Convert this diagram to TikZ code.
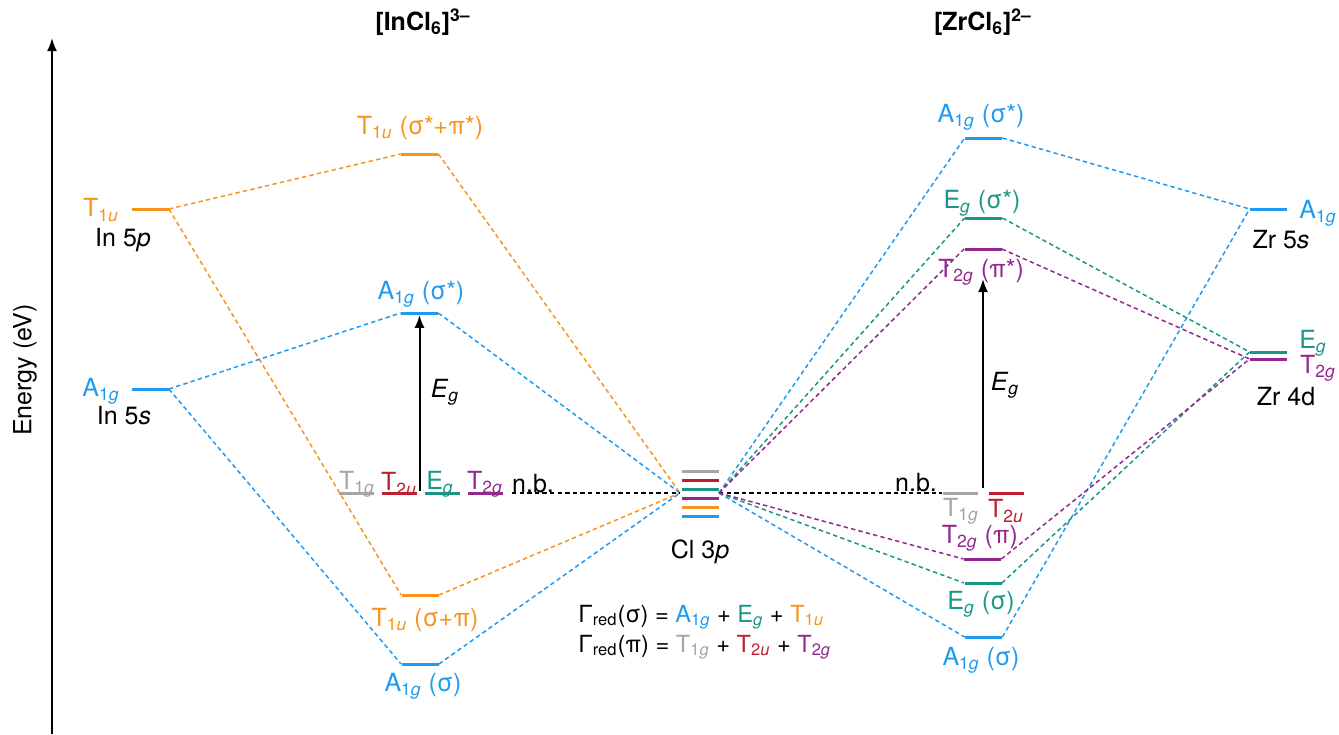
\documentclass[tikz,border=0pt]{standalone}
\usepackage{fontspec}
\setmainfont{TeX Gyre Heros}
\usetikzlibrary{arrows.meta}
\definecolor{mblue}{HTML}{1E9BF0}
\definecolor{morange}{HTML}{F7941D}
\definecolor{mteal}{HTML}{1A9688}
\definecolor{mpurple}{HTML}{93278F}
\definecolor{mred}{HTML}{BE1E2D}
\definecolor{mgray}{HTML}{A6A6A6}
\newcommand{\sym}[3]{#1\textsubscript{#2\textit{#3}}}

\begin{document}
\begin{tikzpicture}[x=0.5pt,y=-0.5pt,
  lvl/.style={rectangle, fill=#1, minimum width=18.5pt, minimum height=1.5pt, inner sep=0pt},
  nblvl/.style={lvl=#1, minimum width=17.5pt},
  corr/.style={draw=#1, line width=0.75pt, dash pattern=on 2.2pt off 1.6pt},
  txt/.style={font=\fontsize{12.5}{14}\selectfont, inner sep=0pt},
  rep/.style={txt, anchor=west, font=\fontsize{11.8}{14}\selectfont},
  gap/.style={-{Latex[length=6.5pt,width=5pt]}, line width=1pt}]
\useasboundingbox (0,0) rectangle (1339,734);
\draw[gap] (52,734) -- (52,38);
\node[txt, rotate=90] (energy) at (25,370) {Energy (eV)};
\node[txt, font=\fontsize{12.5}{14}\selectfont\bfseries] (inTitle) at (423,22) {[InCl\textsubscript{6}]\textsuperscript{3–}};
\node[txt, font=\fontsize{12.5}{14}\selectfont\bfseries] (zrTitle) at (983,22) {[ZrCl\textsubscript{6}]\textsuperscript{2–}};
\node[lvl=morange] (inP) at (150,209) {};
\node[lvl=mblue] (inS) at (150,389) {};
\node[lvl=morange] (tuA) at (419.5,154) {};
\node[lvl=mblue] (agA) at (419.5,313) {};
\node[nblvl=mgray] (tg) at (356.5,493) {};
\node[nblvl=mred] (tu) at (399.5,493) {};
\node[nblvl=mteal] (eg) at (442.5,493) {};
\node[nblvl=mpurple] (t2) at (485,493) {};
\node[lvl=morange] (tuB) at (420,595) {};
\node[lvl=mblue] (agB) at (420,664) {};
\node[lvl=mgray] (cl1) at (700,471) {};
\node[lvl=mred] (cl2) at (700,480) {};
\node[lvl=mteal] (cl3) at (700,489) {};
\node[lvl=mpurple] (cl4) at (700,498) {};
\node[lvl=morange] (cl5) at (700,507) {};
\node[lvl=mblue] (cl6) at (700,516) {};
\coordinate (clL) at (680,493);
\coordinate (clR) at (719,493);
\coordinate (nbL) at (512,493);
\node[lvl=mblue] (zagA) at (983.5,138) {};
\node[lvl=mteal] (zegA) at (983.5,218) {};
\node[lvl=mpurple] (ztA) at (983,249) {};
\node[nblvl=mgray] (ztg) at (960,493) {};
\node[nblvl=mred] (ztu) at (1006,493) {};
\node[lvl=mpurple] (ztB) at (982.5,559) {};
\node[lvl=mteal] (zegB) at (983,583) {};
\node[lvl=mblue] (zagB) at (983.5,637) {};
\node[lvl=mblue] (zrS) at (1268.5,209) {};
\node[lvl=mteal] (zrE) at (1268.5,352) {};
\node[lvl=mpurple] (zrT) at (1268.5,359) {};
\draw[corr=morange] (inP.east) -- (tuA.west);
\draw[corr=morange] (tuA.east) -- (clL);
\draw[corr=morange] (inP.east) -- (tuB.west);
\draw[corr=morange] (tuB.east) -- (clL);
\draw[corr=mblue] (inS.east) -- (agA.west);
\draw[corr=mblue] (agA.east) -- (clL);
\draw[corr=mblue] (inS.east) -- (agB.west);
\draw[corr=mblue] (agB.east) -- (clL);
\draw[corr=black] (nbL) -- (clL);
\draw[corr=black] (clR) -- (ztg.west);
\draw[corr=mblue] (clR) -- (zagA.west);
\draw[corr=mblue] (zagA.east) -- (zrS.west);
\draw[corr=mblue] (clR) -- (zagB.west);
\draw[corr=mblue] (zagB.east) -- (zrS.west);
\draw[corr=mteal] (clR) -- (zegA.west);
\draw[corr=mteal] (zegA.east) -- (zrE.west);
\draw[corr=mteal] (clR) -- (zegB.west);
\draw[corr=mteal] (zegB.east) -- (zrE.west);
\draw[corr=mpurple] (clR) -- (ztA.west);
\draw[corr=mpurple] (ztA.east) -- (zrT.west);
\draw[corr=mpurple] (clR) -- (ztB.west);
\draw[corr=mpurple] (ztB.east) -- (zrT.west);
\node[txt, text=morange] (inPl) at (101,210) {\sym{T}{1}{u}};
\node[txt] (inPn) at (123,240) {In 5\textit{p}};
\node[txt, text=mblue] (inSl) at (101,391) {\sym{A}{1}{g}};
\node[txt] (inSn) at (124,416) {In 5\textit{s}};
\node[txt, text=morange] (tuAl) at (420,128) {\sym{T}{1}{u} (σ*+π*)};
\node[txt, text=mblue] (agAl) at (421,294) {\sym{A}{1}{g} (σ*)};
\node[txt] (gapL) at (445,392) {\textit{E}\textsubscript{\textit{g}}};
\node[txt, text=mgray] (tgl) at (357,484) {\sym{T}{1}{g}};
\node[txt, text=mred] (tul) at (399,484) {\sym{T}{2}{u}};
\node[txt, text=mteal] (egl) at (440,484) {\sym{E}{}{g}};
\node[txt, text=mpurple] (t2l) at (485,484) {\sym{T}{2}{g}};
\node[txt] (nbLl) at (533,484) {n.b.};
\node[txt, text=morange] (tuBl) at (425,620) {\sym{T}{1}{u} (σ+π)};
\node[txt, text=mblue] (agBl) at (423,686) {\sym{A}{1}{g} (σ)};
\node[txt] (cll) at (700,552) {Cl 3\textit{p}};
\node[rep] (redS) at (578,617) {Γ\textsubscript{red}(σ) = \textcolor{mblue}{\sym{A}{1}{g}} + \textcolor{mteal}{\sym{E}{}{g}} + \textcolor{morange}{\sym{T}{1}{u}}};
\node[rep] (redP) at (578,647) {Γ\textsubscript{red}(π) = \textcolor{mgray}{\sym{T}{1}{g}} + \textcolor{mred}{\sym{T}{2}{u}} + \textcolor{mpurple}{\sym{T}{2}{g}}};
\node[txt, text=mblue] (zagAl) at (981,117) {\sym{A}{1}{g} (σ*)};
\node[txt, text=mteal] (zegAl) at (982,203) {\sym{E}{}{g} (σ*)};
\node[txt, text=mpurple] (ztAl) at (981,272) {\sym{T}{2}{g} (π*)};
\node[txt] (nbRl) at (916,483) {n.b.};
\node[txt, text=mgray] (ztgl) at (961,511) {\sym{T}{1}{g}};
\node[txt, text=mred] (ztul) at (1006,511) {\sym{T}{2}{u}};
\node[txt, text=mpurple] (ztBl) at (980,538) {\sym{T}{2}{g} (π)};
\node[txt, text=mteal] (zegBl) at (981,604) {\sym{E}{}{g} (σ)};
\node[txt, text=mblue] (zagBl) at (981,660) {\sym{A}{1}{g} (σ)};
\node[txt] (gapR) at (1005,385) {\textit{E}\textsubscript{\textit{g}}};
\node[txt, text=mblue] (zrSl) at (1318,213) {\sym{A}{1}{g}};
\node[txt] (zrSn) at (1281,240) {Zr 5\textit{s}};
\node[txt, text=mteal] (zrEl) at (1313,343) {\sym{E}{}{g}};
\node[txt, text=mpurple] (zrTl) at (1318,368) {\sym{T}{2}{g}};
\node[txt] (zrDn) at (1286,397) {Zr 4d};
\draw[gap] (agA.south |- tu.north) -- (agA.south);
\draw[gap] (983,488) -- (983,279);
\end{tikzpicture}
\end{document}
